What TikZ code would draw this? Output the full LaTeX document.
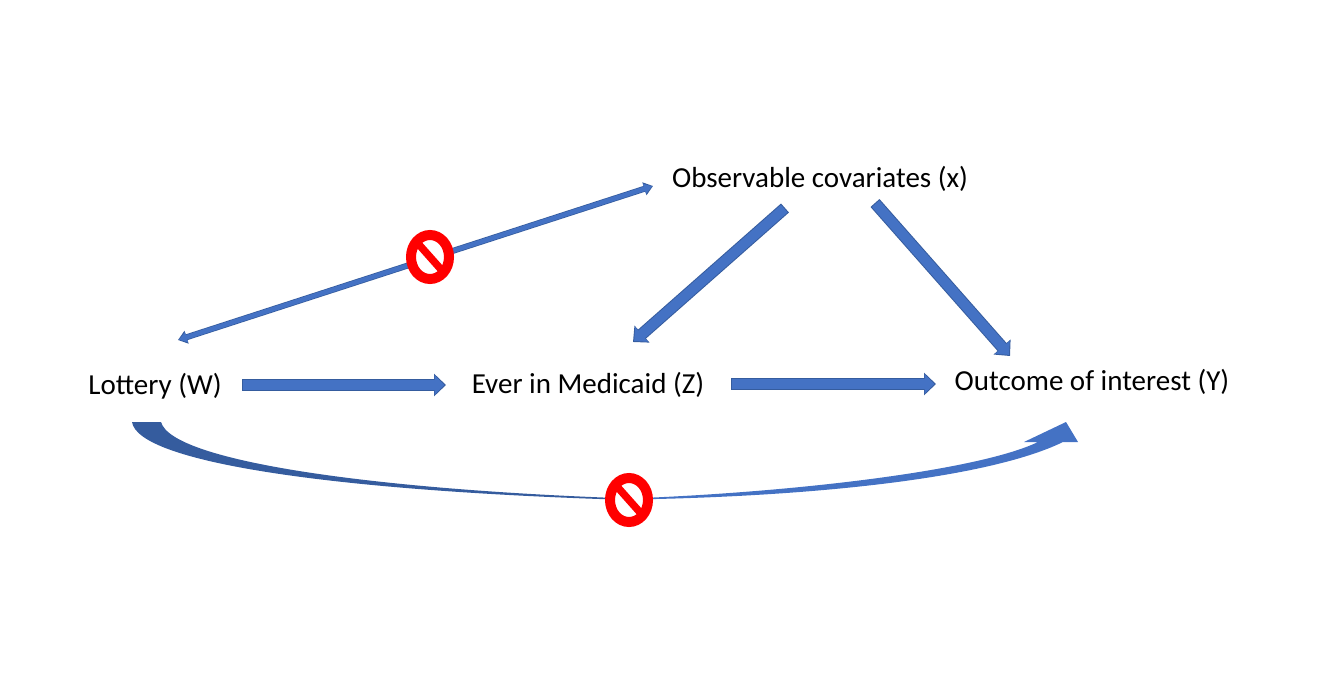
\documentclass[tikz,border=0pt]{standalone}
\usepackage{fontspec}
\setmainfont{Carlito}
\usetikzlibrary{arrows.meta,shapes.geometric}
\definecolor{arrowblue}{HTML}{4472C4}
\definecolor{arrowdark}{HTML}{355C9E}
\begin{document}
\begin{tikzpicture}
  [x=1pt,y=-1pt,
   every node/.style={font=\fontsize{29}{34}\selectfont,text=black,inner sep=0pt},
   blockedge/.style={draw=arrowdark,line width=12pt,-{Triangle[length=12pt,width=22pt]}},
   block/.style={draw=arrowblue,line width=10pt,shorten <=1pt,shorten >=1.5pt,-{Triangle[length=10pt,width=19pt]}},
   thinedge/.style={draw=arrowdark,line width=6pt,{Triangle[length=9pt,width=13pt]}-{Triangle[length=9pt,width=13pt]}},
   thinblock/.style={draw=arrowblue,line width=4.5pt,shorten <=1pt,shorten >=1pt,{Triangle[length=8pt,width=10pt]}-{Triangle[length=8pt,width=10pt]}},
   nosign/.style={ellipse,draw=red,fill=white,line width=10pt,minimum width=38pt,minimum height=44pt}]
  \useasboundingbox (0,0) rectangle (1320,688);

  \node (x) at (820,179) {Observable covariates (x)};
  \node (w) at (155,386) {Lottery (W)};
  \node (z) at (588,385) {Ever in Medicaid (Z)};
  \node (y) at (1092,382) {Outcome of interest (Y)};

  \coordinate (w1) at (242,385);
  \coordinate (z1) at (446,385);
  \coordinate (z2) at (731,384);
  \coordinate (y1) at (936,384);
  \coordinate (x1) at (785,208);
  \coordinate (z3) at (633,342);
  \coordinate (x2) at (875,203);
  \coordinate (y2) at (1010,356);
  \coordinate (x3) at (653,186);
  \coordinate (w2) at (178,340);

  \foreach \from/\to in {w1/z1,z2/y1,x1/z3,x2/y2} {
    \draw[blockedge] (\from) -- (\to);
    \draw[block] (\from) -- (\to);
  }
  \draw[thinedge] (w2) -- (x3);
  \draw[thinblock] (w2) -- (x3);

  % curved arrow below, thin in the middle
  \fill[arrowdark] (132,422) .. controls (138,462) and (330,491) .. (630,500)
    -- (630,498.5) .. controls (380,490) and (172,462) .. (161,422) -- cycle;
  \fill[arrowblue] (630,499.5) .. controls (800,497) and (985,480) .. (1063,442)
    -- (1078,442) -- (1066,422) -- (1024,442) -- (1038,442)
    .. controls (980,470) and (800,492) .. (630,498.5) -- cycle;

  \node[nosign] (stop1) at (430,257) {};
  \node[nosign] (stop2) at (629,500) {};
  \foreach \s in {stop1,stop2}
    \draw[red,line width=7.5pt,shorten <=3pt,shorten >=3pt] (\s.north west) -- (\s.south east);
\end{tikzpicture}
\end{document}
